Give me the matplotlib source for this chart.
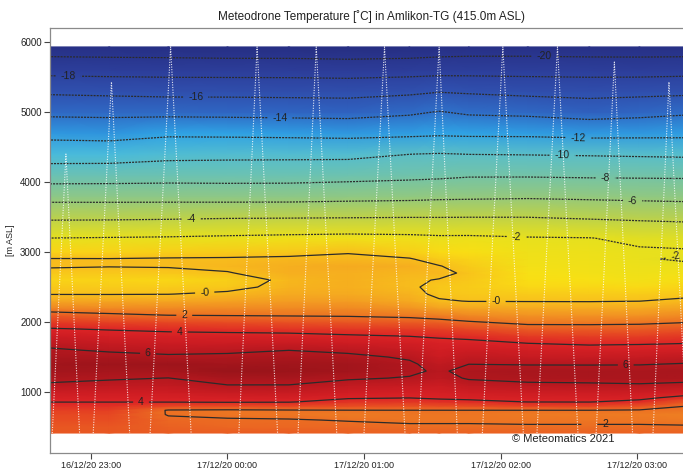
import numpy as np
import pandas as pd
import matplotlib
matplotlib.use("Agg")
import matplotlib.pyplot as plt
import matplotlib.dates as mdates
from matplotlib.colors import LinearSegmentedColormap, Normalize

plt.rcParams.update({
    'font.family': ['Liberation Sans', 'DejaVu Sans'],
    'axes.titlesize': 8.5,
    'xtick.labelsize': 6.5,
    'ytick.labelsize': 7,
})

# profile times (columns) and altitude levels [m ASL] (rows)
times = ["2020-12-16 22:42", "2020-12-16 23:08", "2020-12-16 23:34", "2020-12-17 00:00",
         "2020-12-17 00:27", "2020-12-17 00:53", "2020-12-17 01:20", "2020-12-17 01:33",
         "2020-12-17 01:46", "2020-12-17 02:12", "2020-12-17 02:39", "2020-12-17 03:01",
         "2020-12-17 03:25"]
altitudes = [415, 500, 600, 680, 740, 800, 860, 920, 1000, 1100, 1200, 1300, 1400, 1500,
             1600, 1700, 1800, 1900, 2000, 2100, 2200, 2300, 2400, 2500, 2600, 2700, 2800,
             2900, 3000, 3200, 3500, 3800, 4100, 4400, 4700, 5000, 5300, 5600, 5930]

# temperature [C], one profile per time
temp_profiles = [
    [2.5, 2.6, 2.75, 2.9, 3.18, 3.6, 4.02, 4.46, 5.05, 5.79, 6.39, 6.93, 7.0, 6.59, 6.18, 5.58, 4.84, 4.10, 3.25, 2.38,
     1.53, 0.71, -0.04, -0.32, -0.6, -0.25, 0.09, 0.05, -0.6, -2.0, -4.35, -6.70, -8.94, -10.89, -12.55, -14.43, -16.33, -18.63, -21.0],
    [2.5, 2.6, 2.75, 2.9, 3.18, 3.6, 4.02, 4.40, 4.91, 5.55, 6.18, 6.80, 7.16, 6.48, 5.82, 5.19, 4.56, 3.91, 3.04, 2.17,
     1.40, 0.65, -0.04, -0.35, -0.65, -0.30, 0.04, 0.04, -0.58, -1.93, -4.33, -6.71, -8.89, -10.89, -12.67, -14.48, -16.46, -18.71, -21.05],
    [2.4, 2.29, 2.15, 1.95, 1.93, 2.92, 4.06, 4.40, 4.86, 5.43, 5.98, 6.72, 7.13, 6.25, 5.58, 5.0, 4.41, 3.74, 2.87, 1.98,
     1.33, 0.67, -0.02, -0.37, -0.7, -0.29, 0.08, 0.10, -0.51, -1.86, -4.26, -6.72, -8.79, -10.56, -12.32, -14.50, -16.60, -18.74, -21.1],
    [2.4, 2.25, 2.08, 1.84, 1.89, 2.81, 4.13, 4.60, 5.22, 5.98, 6.7, 7.4, 6.85, 6.31, 5.71, 5.05, 4.38, 3.63, 2.77, 1.94,
     1.35, 0.76, 0.17, -0.28, -0.51, -0.06, 0.22, 0.11, -0.38, -1.73, -4.16, -6.76, -8.81, -10.48, -12.37, -14.54, -16.60, -18.77, -21.2],
    [2.4, 2.24, 2.05, 1.79, 1.94, 2.92, 4.08, 4.56, 5.2, 5.98, 6.61, 7.22, 7.04, 6.52, 5.98, 5.18, 4.35, 3.52, 2.68, 1.90,
     1.38, 0.86, 0.50, 0.29, 0.22, 0.47, 0.455, 0.17, -0.28, -1.60, -4.13, -6.75, -8.79, -10.46, -12.44, -14.61, -16.64, -18.78, -21.2],
    [2.35, 2.2, 1.96, 1.7, 1.98, 2.73, 3.49, 4.15, 4.74, 5.48, 6.17, 6.86, 6.91, 6.34, 5.69, 4.92, 4.15, 3.36, 2.57, 1.87,
     1.42, 0.96, 0.5, 0.45, 0.4, 0.45, 0.5, 0.24, -0.07, -1.5, -4.09, -6.62, -8.65, -10.47, -12.52, -14.67, -16.69, -18.86, -21.3],
    [2.35, 2.14, 1.86, 1.8, 1.99, 2.67, 3.37, 4.04, 4.57, 5.24, 5.91, 6.27, 6.22, 5.82, 5.21, 4.61, 3.98, 3.22, 2.44, 1.75,
     1.18, 0.6, 0.28, 0.12, 0.13, 0.15, 0.4, 0.07, -0.45, -1.6, -4.04, -6.53, -8.46, -10.02, -12.42, -14.28, -16.4, -18.77, -21.2],
    [2.35, 2.14, 1.86, 1.8, 1.99, 2.8, 3.64, 4.17, 4.56, 5.06, 5.55, 5.79, 5.43, 5.07, 4.71, 4.35, 3.85, 3.08, 2.31, 1.56,
     0.83, 0.10, -0.19, -0.22, -0.05, 0.23, 0.04, -0.39, -0.83, -1.73, -4.04, -6.41, -8.36, -9.93, -12.31, -13.92, -16.13, -18.69, -21.0],
    [2.35, 2.14, 1.86, 1.8, 1.99, 2.83, 3.71, 4.28, 4.82, 5.51, 6.13, 6.42, 5.99, 5.44, 4.89, 4.33, 3.68, 2.88, 2.08, 1.35,
     0.62, -0.03, -0.28, -0.34, -0.22, -0.16, -0.38, -0.6, -0.93, -1.72, -4.02, -6.36, -8.18, -10.03, -12.38, -14.26, -16.26, -18.67, -20.9],
    [2.3, 2.12, 1.81, 1.73, 1.99, 3.0, 4.02, 4.44, 5.0, 5.70, 6.44, 6.61, 5.91, 5.27, 4.64, 3.98, 3.23, 2.46, 1.75, 1.14,
     0.53, -0.04, -0.36, -0.68, -1.0, -1.13, -1.27, -1.4, -1.56, -1.9, -4.02, -6.27, -8.18, -10.08, -12.40, -14.41, -16.52, -18.67, -20.9],
    [2.3, 2.12, 1.81, 1.73, 1.99, 3.0, 4.04, 4.46, 5.05, 5.78, 6.48, 6.61, 5.90, 5.2, 4.5, 3.8, 3.11, 2.42, 1.75, 1.14,
     0.53, -0.05, -0.38, -0.71, -1.04, -1.27, -1.4, -1.53, -1.67, -1.97, -4.22, -6.38, -8.25, -10.16, -12.58, -14.78, -16.67, -18.70, -21.0],
    [2.3, 2.12, 1.81, 1.71, 1.93, 2.67, 3.67, 4.34, 5.03, 5.88, 6.51, 6.51, 5.93, 5.24, 4.55, 3.86, 3.16, 2.46, 1.79, 1.19,
     0.6, -0.01, -0.43, -0.87, -1.3, -1.52, -1.67, -1.82, -1.85, -2.25, -4.37, -6.47, -8.27, -10.24, -12.53, -14.55, -16.57, -18.73, -21.0],
    [2.3, 2.08, 1.77, 1.66, 1.79, 1.91, 2.32, 3.44, 4.56, 5.67, 6.43, 6.6, 6.1, 5.43, 4.71, 3.98, 3.33, 2.67, 1.98, 1.42,
     0.83, 0.25, -0.22, -0.61, -1.0, -1.35, -1.7, -2.3, -1.9, -2.4, -4.52, -6.56, -8.29, -10.33, -12.48, -14.21, -16.44, -18.63, -21.0],
]

# drone flights: take-off, top, landing and top altitude
flight_up = ["2020-12-16 22:43", "2020-12-16 23:01", "2020-12-16 23:26", "2020-12-17 00:05",
             "2020-12-17 00:31", "2020-12-17 01:00", "2020-12-17 01:24", "2020-12-17 01:52",
             "2020-12-17 02:16", "2020-12-17 02:42", "2020-12-17 03:07"]
flight_peak = ["2020-12-16 22:49", "2020-12-16 23:09", "2020-12-16 23:35", "2020-12-17 00:13",
               "2020-12-17 00:39", "2020-12-17 01:09", "2020-12-17 01:33", "2020-12-17 02:01",
               "2020-12-17 02:25", "2020-12-17 02:50", "2020-12-17 03:14"]
flight_down = ["2020-12-16 22:55", "2020-12-16 23:17", "2020-12-16 23:44", "2020-12-17 00:22",
               "2020-12-17 00:48", "2020-12-17 01:18", "2020-12-17 01:41", "2020-12-17 02:10",
               "2020-12-17 02:34", "2020-12-17 02:58", "2020-12-17 03:22"]
flight_top = [4400, 5430, 5930, 5930, 5930, 5930, 5930, 5930, 5930, 5714, 5430]
ground = 415

contour_levels = [-20, -18, -16, -14, -12, -10, -8, -6, -4, -2, 0, 2, 4, 6]

# colour scale
cmap_temps = [-22, -19, -17, -15, -13, -12, -11, -10, -8, -6, -4, -2, -1, 0, 1, 2, 3, 4, 5, 6, 8]
cmap_colors = ['#242a7c', '#2c3c98', '#2f4aa8', '#2f5cbc', '#2e88d8', '#30b0ea', '#48badc', '#5cbec6',
               '#76c4a4', '#98c978', '#bfd247', '#e6e01e', '#f9e014', '#f8c01c', '#f39b22', '#ec7122',
               '#e64522', '#dd2426', '#cc1c22', '#b6181f', '#8e1218']
vmin, vmax = -22, 8
cmap = LinearSegmentedColormap.from_list(
    'meteo', [((t - vmin) / (vmax - vmin), c) for t, c in zip(cmap_temps, cmap_colors)])

x = mdates.date2num(pd.to_datetime(times))
y = np.array(altitudes)
z = np.array(temp_profiles).T

fig = plt.figure(figsize=(6.83, 4.72), dpi=100)
ax = fig.add_axes([50/683, 19/472, 644/683, 425/472])

ax.pcolormesh(x, y, z, shading='gouraud', cmap=cmap, norm=Normalize(vmin, vmax), zorder=1)
cs = ax.contour(x, y, z, levels=contour_levels, colors='#2b2b2b', linewidths=0.9,
                negative_linestyles=(0, (1.6, 0.9)), zorder=2)

for up, pk, dn, top in zip(flight_up, flight_peak, flight_down, flight_top):
    tx = mdates.date2num(pd.to_datetime([up, pk, dn]))
    ax.plot(tx, [ground, top, ground], color='white', lw=0.8, ls=(0, (1, 1.3)),
            alpha=0.85, zorder=3)

label_pos = [("2020-12-17 02:19", 5786), ("2020-12-16 22:50", 5514), ("2020-12-16 23:46", 5229),
             ("2020-12-17 00:23", 4914), ("2020-12-17 02:34", 4643), ("2020-12-17 02:27", 4400),
             ("2020-12-17 02:46", 4057), ("2020-12-17 02:58", 3729), ("2020-12-16 23:44", 3486),
             ("2020-12-17 02:07", 3271), ("2020-12-17 03:17", 2910),
             ("2020-12-16 23:50", 2414), ("2020-12-17 01:58", 2300),
             ("2020-12-16 23:41", 2114), ("2020-12-17 02:46", 586),
             ("2020-12-16 23:39", 1857), ("2020-12-16 23:22", 886),
             ("2020-12-16 23:25", 1529), ("2020-12-17 02:55", 1357)]
manual = [(mdates.date2num(pd.Timestamp(t)), a) for t, a in label_pos]
fmt = {lv: ('-0' if lv == 0 else '%d' % lv) for lv in contour_levels}
labels = ax.clabel(cs, manual=manual, inline=True, fmt=fmt, fontsize=7.5, colors='#222222')
for t in labels:
    t.set_zorder(4)

ax.set_xlim(x[0], x[-1])
ax.set_ylim(130, 6200)
ax.set_yticks([1000, 2000, 3000, 4000, 5000, 6000])
ax.xaxis.set_major_locator(mdates.HourLocator())
ax.xaxis.set_major_formatter(mdates.DateFormatter('%d/%m/%y %H:%M'))
ax.tick_params(direction='out', length=4, width=0.8, color='#444444', labelcolor='#222222', pad=2)
for s in ax.spines.values():
    s.set_color('#8a8a8a')
    s.set_linewidth(0.9)

ax.set_title('Meteodrone Temperature [\u02daC] in Amlikon-TG (415.0m ASL)', pad=6, color='#222222')
ax.set_ylabel('[m ASL]', fontsize=6.5, color='#222222')
ax.yaxis.set_label_coords(-0.054, 0.5)
ax.text(0.797, 0.032, '\u00a9 Meteomatics 2021', transform=ax.transAxes, ha='center', va='center',
        fontsize=8, color='#222222')

fig.savefig('out.png', dpi=100)
